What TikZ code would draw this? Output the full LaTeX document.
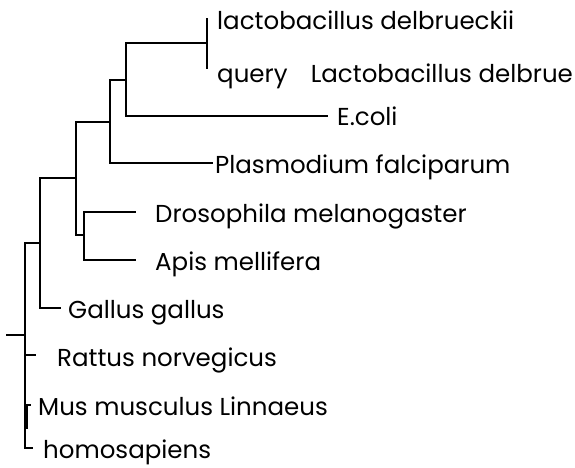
\documentclass[tikz,border=0pt]{standalone}
\usepackage{fontspec}
\setmainfont{Poppins}
\usepackage{tikz}
\usetikzlibrary{positioning}

\begin{document}
\begin{tikzpicture}[
  x=1pt, y=-1pt,
  branch/.style={line width=2.1pt, line cap=rect},
  leaf/.style={anchor=base west, inner sep=0pt, font=\fontsize{24.5}{28}\selectfont},
]
  \useasboundingbox (0,0) rectangle (575,467);

  % Inner nodes
  \coordinate (lactoclade) at (207,43);
  \coordinate (ecoliclade) at (126,80);
  \coordinate (plasmclade) at (110,122);
  \coordinate (insectup) at (76,178);
  \coordinate (insects) at (84,235);
  \coordinate (gallusclade) at (40,243);
  \coordinate (rootnode) at (25,335);
  \coordinate (rootstub) at (7,335);
  \coordinate (musclade) at (26.8,405);

  % Leaf ends
  \coordinate (lactotop) at (207,19);
  \coordinate (lactobot) at (207,68);
  \coordinate (ecolitip) at (327,116);
  \coordinate (plasmtip) at (212,163);
  \coordinate (drostip) at (135,212);
  \coordinate (apistip) at (135,260);
  \coordinate (gallustip) at (60,308);
  \coordinate (rattustip) at (35,355);
  \coordinate (mustip) at (30,405);
  \coordinate (homotip) at (32,448);

  % Labels
  \node[leaf] (lacto) at (217,29) {lactobacillus delbrueckii};
  \node[leaf] (query) at (217,82) {query\hspace{0.95em}Lactobacillus delbrue};
  \node[leaf] (ecoli) at (337,125.5) {E.coli};
  \node[leaf] (plasm) at (215,173) {Plasmodium falciparum};
  \node[leaf] (dros) at (155,222) {Drosophila melanogaster};
  \node[leaf] (apis) at (155,270) {Apis mellifera};
  \node[leaf] (gallus) at (68,318) {Gallus gallus};
  \node[leaf] (rattus) at (57,366) {Rattus norvegicus};
  \node[leaf] (mus) at (38,415) {Mus musculus Linnaeus};
  \node[leaf] (homo) at (43,458) {homosapiens};

  % Branches
  \draw[branch] (lactotop) -- (lactobot);
  \draw[branch] (ecoliclade) |- (lactoclade);
  \draw[branch] (ecoliclade) |- (ecolitip);
  \draw[branch] (plasmclade) |- (ecoliclade);
  \draw[branch] (plasmclade) |- (plasmtip);
  \draw[branch] (insectup) |- (plasmclade);
  \draw[branch] (insectup) |- (insects);
  \draw[branch] (insects) |- (drostip);
  \draw[branch] (insects) |- (apistip);
  \draw[branch] (gallusclade) |- (insectup);
  \draw[branch] (gallusclade) |- (gallustip);
  \draw[branch] (rootnode) |- (gallusclade);
  \draw[branch] (rootnode) |- (homotip);
  \draw[branch] (rootstub) -- (rootnode);
  \draw[branch] (rootnode) |- (rattustip);
  \draw[branch] (musclade) -- (mustip);
  \draw[branch] (musclade) -- ++(0,23);

\end{tikzpicture}
\end{document}
